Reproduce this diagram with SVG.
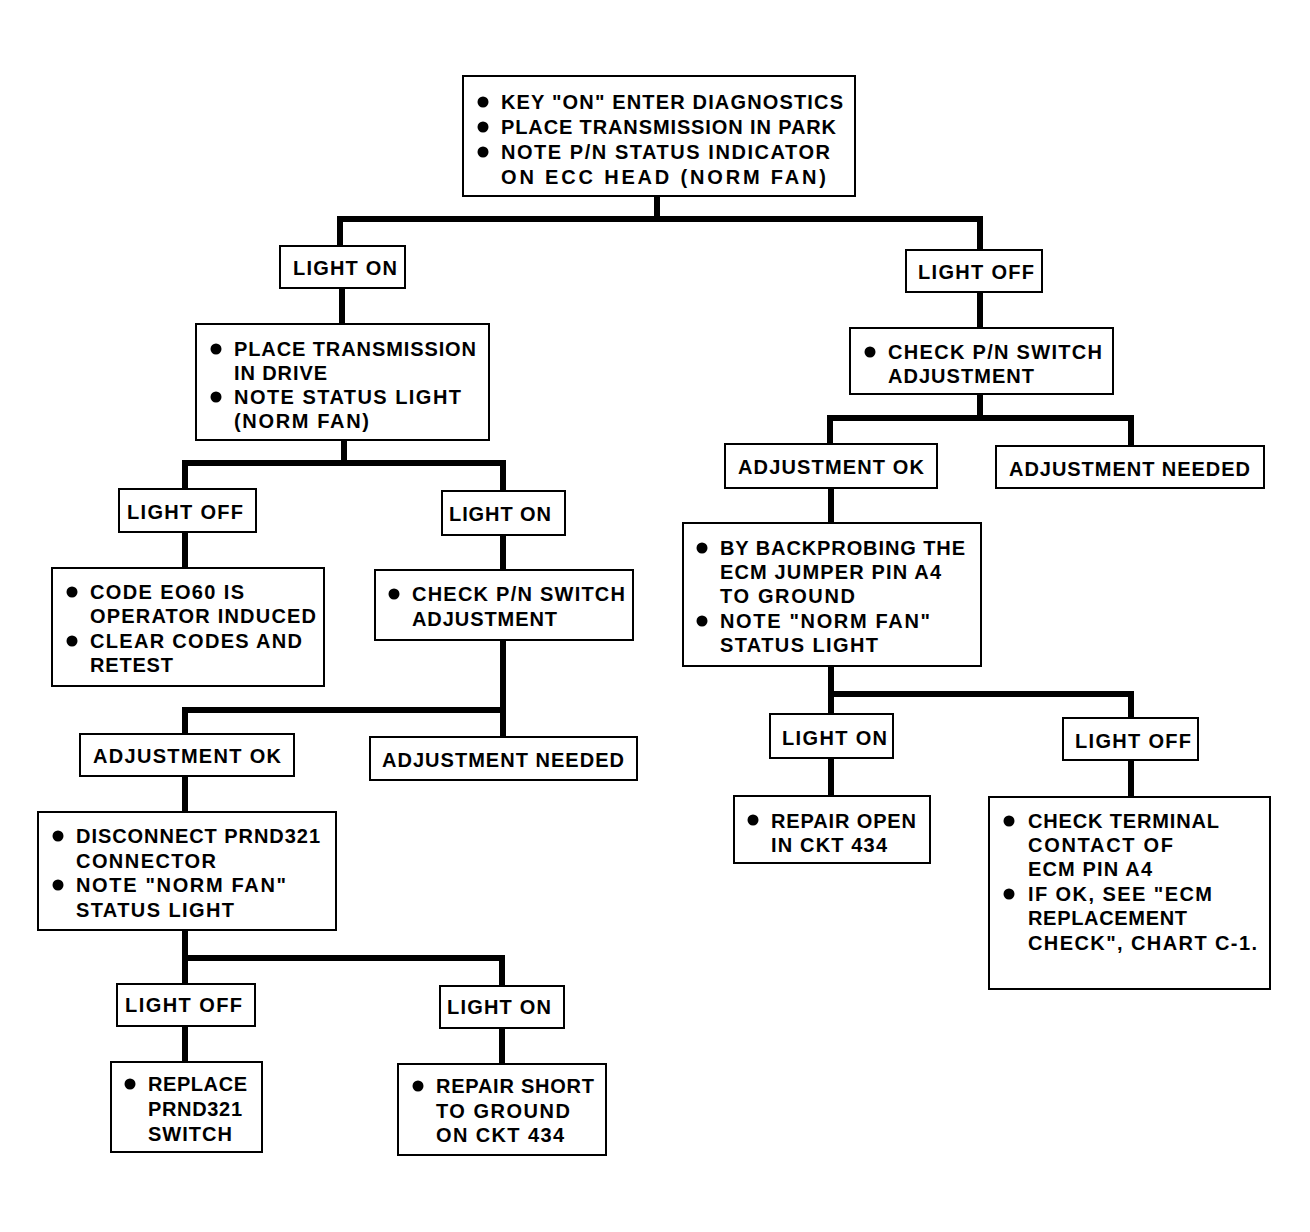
<svg xmlns="http://www.w3.org/2000/svg" width="1310" height="1232" viewBox="0 0 1310 1232">
<style>
.box{fill:#fff;stroke:#000;stroke-width:2}
.conn{fill:none;stroke:#000;stroke-width:6;stroke-linejoin:miter;stroke-linecap:butt}
text{font-family:"Liberation Sans",Arial,sans-serif;font-size:20px;font-weight:bold;fill:#000}
.dot{fill:#000}
</style>
<rect width="1310" height="1232" fill="#fff"/>
<g id="connectors">
<path class="conn" d="M657,196 V219 M340,246 V219 H980 V250"/>
<path class="conn" d="M342,288 V324"/>
<path class="conn" d="M980,292 V328"/>
<path class="conn" d="M344,440 V463 M185,489 V463 H503 V491"/>
<path class="conn" d="M185,532 V568"/>
<path class="conn" d="M503,535 V570"/>
<path class="conn" d="M503,640 V710 H185 V734 M503,710 V737"/>
<path class="conn" d="M185,776 V812"/>
<path class="conn" d="M185,930 V984 M185,958 H502 V986"/>
<path class="conn" d="M185,1026 V1062"/>
<path class="conn" d="M502,1028 V1064"/>
<path class="conn" d="M980,394 V418 M830,444 V418 H1131 V446"/>
<path class="conn" d="M831,488 V523"/>
<path class="conn" d="M831,666 V714 M831,694 H1131 V718"/>
<path class="conn" d="M831,758 V796"/>
<path class="conn" d="M1131,760 V797"/>
</g>
<g id="n-start">
<rect class="box" x="463" y="76" width="392" height="120"/>
<circle class="dot" cx="483" cy="102" r="5.5"/>
<circle class="dot" cx="483" cy="127" r="5.5"/>
<circle class="dot" cx="483" cy="152" r="5.5"/>
<text x="501" y="109" textLength="342" lengthAdjust="spacing">KEY "ON" ENTER DIAGNOSTICS</text>
<text x="501" y="134" textLength="335" lengthAdjust="spacing">PLACE TRANSMISSION IN PARK</text>
<text x="501" y="159" textLength="329" lengthAdjust="spacing">NOTE P/N STATUS INDICATOR</text>
<text x="501" y="184" textLength="325" lengthAdjust="spacing">ON ECC HEAD (NORM FAN)</text>
</g>
<g id="n-light-on-1">
<rect class="box" x="280" y="246" width="125" height="42"/>
<text x="293" y="275" textLength="104" lengthAdjust="spacing">LIGHT ON</text>
</g>
<g id="n-light-off-1">
<rect class="box" x="906" y="250" width="136" height="42"/>
<text x="918" y="279" textLength="116" lengthAdjust="spacing">LIGHT OFF</text>
</g>
<g id="n-drive">
<rect class="box" x="196" y="324" width="293" height="116"/>
<circle class="dot" cx="216" cy="349" r="5.5"/>
<circle class="dot" cx="216" cy="397" r="5.5"/>
<text x="234" y="356" textLength="242" lengthAdjust="spacing">PLACE TRANSMISSION</text>
<text x="234" y="380" textLength="93" lengthAdjust="spacing">IN DRIVE</text>
<text x="234" y="404" textLength="227" lengthAdjust="spacing">NOTE STATUS LIGHT</text>
<text x="234" y="428" textLength="135" lengthAdjust="spacing">(NORM FAN)</text>
</g>
<g id="n-check-pn-right">
<rect class="box" x="850" y="328" width="263" height="66"/>
<circle class="dot" cx="870" cy="352" r="5.5"/>
<text x="888" y="359" textLength="214" lengthAdjust="spacing">CHECK P/N SWITCH</text>
<text x="888" y="383" textLength="146" lengthAdjust="spacing">ADJUSTMENT</text>
</g>
<g id="n-light-off-2">
<rect class="box" x="119" y="489" width="137" height="43"/>
<text x="127" y="519" textLength="116" lengthAdjust="spacing">LIGHT OFF</text>
</g>
<g id="n-light-on-2">
<rect class="box" x="442" y="491" width="123" height="44"/>
<text x="449" y="521" textLength="102" lengthAdjust="spacing">LIGHT ON</text>
</g>
<g id="n-code">
<rect class="box" x="52" y="568" width="272" height="118"/>
<circle class="dot" cx="72" cy="592" r="5.5"/>
<circle class="dot" cx="72" cy="641" r="5.5"/>
<text x="90" y="599" textLength="154" lengthAdjust="spacing">CODE EO60 IS</text>
<text x="90" y="623" textLength="226" lengthAdjust="spacing">OPERATOR INDUCED</text>
<text x="90" y="648" textLength="212" lengthAdjust="spacing">CLEAR CODES AND</text>
<text x="90" y="672" textLength="83" lengthAdjust="spacing">RETEST</text>
</g>
<g id="n-check-pn-left">
<rect class="box" x="375" y="570" width="258" height="70"/>
<circle class="dot" cx="394" cy="594" r="5.5"/>
<text x="412" y="601" textLength="213" lengthAdjust="spacing">CHECK P/N SWITCH</text>
<text x="412" y="626" textLength="145" lengthAdjust="spacing">ADJUSTMENT</text>
</g>
<g id="n-adj-ok-left">
<rect class="box" x="80" y="734" width="214" height="42"/>
<text x="93" y="763" textLength="188" lengthAdjust="spacing">ADJUSTMENT OK</text>
</g>
<g id="n-adj-needed-left">
<rect class="box" x="370" y="737" width="267" height="43"/>
<text x="382" y="767" textLength="242" lengthAdjust="spacing">ADJUSTMENT NEEDED</text>
</g>
<g id="n-disconnect">
<rect class="box" x="38" y="812" width="298" height="118"/>
<circle class="dot" cx="58" cy="836" r="5.5"/>
<circle class="dot" cx="58" cy="885" r="5.5"/>
<text x="76" y="843" textLength="244" lengthAdjust="spacing">DISCONNECT PRND321</text>
<text x="76" y="868" textLength="140" lengthAdjust="spacing">CONNECTOR</text>
<text x="76" y="892" textLength="210" lengthAdjust="spacing">NOTE "NORM FAN"</text>
<text x="76" y="917" textLength="158" lengthAdjust="spacing">STATUS LIGHT</text>
</g>
<g id="n-light-off-3">
<rect class="box" x="117" y="984" width="138" height="42"/>
<text x="125" y="1012" textLength="117" lengthAdjust="spacing">LIGHT OFF</text>
</g>
<g id="n-light-on-3">
<rect class="box" x="440" y="986" width="124" height="42"/>
<text x="447" y="1014" textLength="104" lengthAdjust="spacing">LIGHT ON</text>
</g>
<g id="n-replace">
<rect class="box" x="111" y="1062" width="151" height="90"/>
<circle class="dot" cx="130" cy="1084" r="5.5"/>
<text x="148" y="1091" textLength="99" lengthAdjust="spacing">REPLACE</text>
<text x="148" y="1116" textLength="94" lengthAdjust="spacing">PRND321</text>
<text x="148" y="1141" textLength="84" lengthAdjust="spacing">SWITCH</text>
</g>
<g id="n-repair-short">
<rect class="box" x="398" y="1064" width="208" height="91"/>
<circle class="dot" cx="418" cy="1086" r="5.5"/>
<text x="436" y="1093" textLength="158" lengthAdjust="spacing">REPAIR SHORT</text>
<text x="436" y="1118" textLength="134" lengthAdjust="spacing">TO GROUND</text>
<text x="436" y="1142" textLength="128" lengthAdjust="spacing">ON CKT 434</text>
</g>
<g id="n-adj-ok-right">
<rect class="box" x="725" y="444" width="212" height="44"/>
<text x="738" y="474" textLength="186" lengthAdjust="spacing">ADJUSTMENT OK</text>
</g>
<g id="n-adj-needed-right">
<rect class="box" x="996" y="446" width="268" height="42"/>
<text x="1009" y="476" textLength="241" lengthAdjust="spacing">ADJUSTMENT NEEDED</text>
</g>
<g id="n-backprobe">
<rect class="box" x="683" y="523" width="298" height="143"/>
<circle class="dot" cx="702" cy="548" r="5.5"/>
<circle class="dot" cx="702" cy="621" r="5.5"/>
<text x="720" y="555" textLength="245" lengthAdjust="spacing">BY BACKPROBING THE</text>
<text x="720" y="579" textLength="221" lengthAdjust="spacing">ECM JUMPER PIN A4</text>
<text x="720" y="603" textLength="135" lengthAdjust="spacing">TO GROUND</text>
<text x="720" y="628" textLength="210" lengthAdjust="spacing">NOTE "NORM FAN"</text>
<text x="720" y="652" textLength="158" lengthAdjust="spacing">STATUS LIGHT</text>
</g>
<g id="n-light-on-4">
<rect class="box" x="770" y="714" width="123" height="44"/>
<text x="782" y="745" textLength="105" lengthAdjust="spacing">LIGHT ON</text>
</g>
<g id="n-light-off-4">
<rect class="box" x="1063" y="718" width="135" height="42"/>
<text x="1075" y="748" textLength="116" lengthAdjust="spacing">LIGHT OFF</text>
</g>
<g id="n-repair-open">
<rect class="box" x="734" y="796" width="196" height="67"/>
<circle class="dot" cx="753" cy="820" r="5.5"/>
<text x="771" y="828" textLength="145" lengthAdjust="spacing">REPAIR OPEN</text>
<text x="771" y="852" textLength="116" lengthAdjust="spacing">IN CKT 434</text>
</g>
<g id="n-check-terminal">
<rect class="box" x="989" y="797" width="281" height="192"/>
<circle class="dot" cx="1009" cy="821" r="5.5"/>
<circle class="dot" cx="1009" cy="894" r="5.5"/>
<text x="1028" y="828" textLength="191" lengthAdjust="spacing">CHECK TERMINAL</text>
<text x="1028" y="852" textLength="145" lengthAdjust="spacing">CONTACT OF</text>
<text x="1028" y="876" textLength="124" lengthAdjust="spacing">ECM PIN A4</text>
<text x="1028" y="901" textLength="184" lengthAdjust="spacing">IF OK, SEE "ECM</text>
<text x="1028" y="925" textLength="159" lengthAdjust="spacing">REPLACEMENT</text>
<text x="1028" y="950" textLength="229" lengthAdjust="spacing">CHECK", CHART C-1.</text>
</g>
</svg>
